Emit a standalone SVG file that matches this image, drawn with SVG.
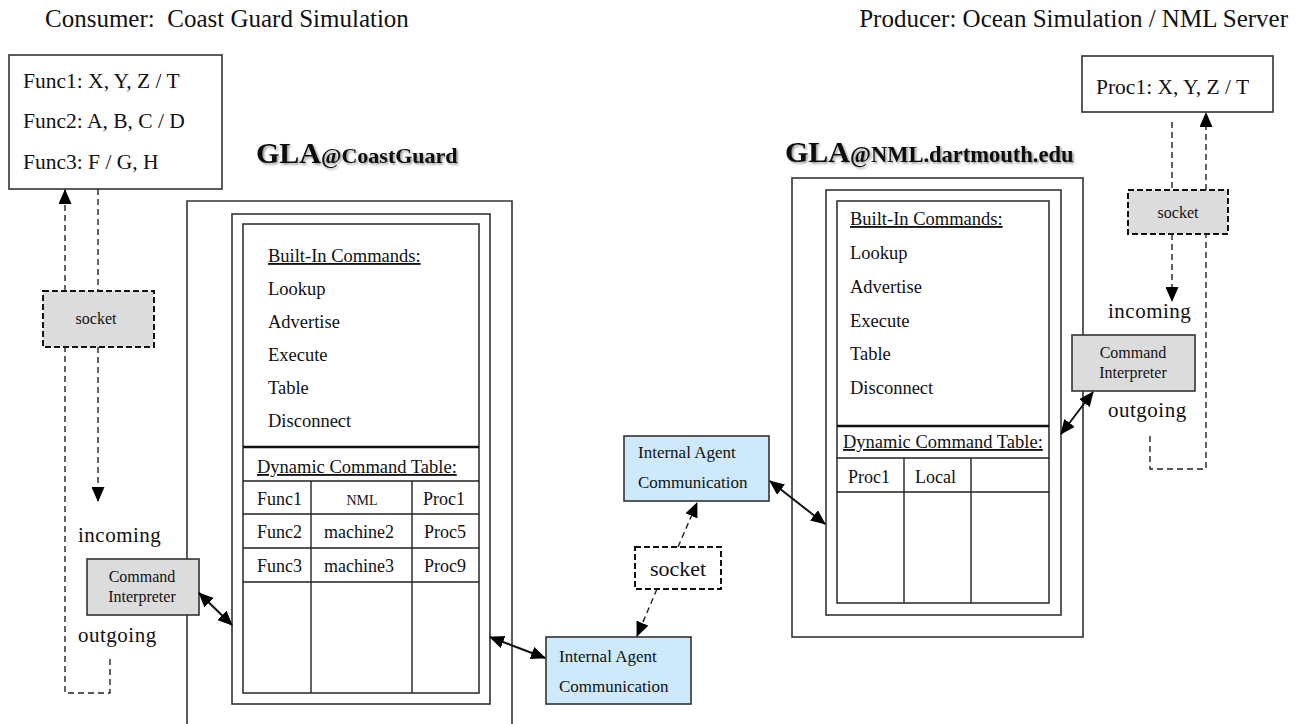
<svg xmlns="http://www.w3.org/2000/svg" width="1296" height="724" viewBox="0 0 1296 724">
  <style>
    text { font-family: "Liberation Serif", "Times New Roman", serif; fill: #111; }
    .title { font-size: 25px; }
    .big { font-size: 21.5px; }
    .cmd { font-size: 18.5px; }
    .cell { font-size: 18px; }
    .small { font-size: 14px; }
    .io { font-size: 21px; letter-spacing: 0.5px; }
    .ci { font-size: 16px; }
    .iac { font-size: 17px; }
    .gla { font-weight: bold; }
    .box { fill: #fff; stroke: #333; stroke-width: 1.6; }
    .frame { fill: none; stroke: #333; stroke-width: 1.6; }
    .line { stroke: #222; stroke-width: 1.4; fill: none; }
    .thick { stroke: #111; stroke-width: 2.6; fill: none; }
    .gray { fill: #dcdcdc; stroke: #333; stroke-width: 1.6; }
    .blue { fill: #cde9fb; stroke: #333; stroke-width: 1.6; }
    .dashbox { stroke: #111; stroke-width: 2; stroke-dasharray: 6 3; }
    .dash { stroke: #222; stroke-width: 1.4; stroke-dasharray: 6 4; fill: none; }
    .solid { stroke: #111; stroke-width: 2; fill: none; }
  </style>
  <defs>
    <marker id="head" markerWidth="15" markerHeight="13" refX="14" refY="6.5" orient="auto-start-reverse" markerUnits="userSpaceOnUse">
      <path d="M0,0 L15,6.5 L0,13 Z" fill="#000"/>
    </marker>
    <filter id="shade" x="-5%" y="-20%" width="110%" height="140%">
      <feDropShadow dx="1.5" dy="1.5" stdDeviation="1" flood-color="#000" flood-opacity="0.45"/>
    </filter>
  </defs>

  <!-- headings -->
  <text class="title" x="45" y="27" xml:space="preserve">Consumer:  Coast Guard Simulation</text>
  <text class="title" x="1288" y="27" text-anchor="end">Producer: Ocean Simulation / NML Server</text>

  <!-- consumer agent -->
  <g id="gla-coastguard">
    <text class="gla" x="256" y="163" filter="url(#shade)"><tspan font-size="30px">GLA</tspan><tspan font-size="22px">@CoastGuard</tspan></text>
    <path class="frame" d="M187,730 V201 H512 V730"/>
    <rect class="box" x="232" y="214" width="258" height="490"/>
    <rect class="box" x="243" y="224" width="236" height="469"/>
    <text class="cmd" x="268" y="262" text-decoration="underline">Built-In Commands:</text>
    <text class="cmd" x="268" y="295">Lookup</text>
    <text class="cmd" x="268" y="328">Advertise</text>
    <text class="cmd" x="268" y="361">Execute</text>
    <text class="cmd" x="268" y="394">Table</text>
    <text class="cmd" x="268" y="427">Disconnect</text>
    <path class="thick" d="M243,447 H479"/>
    <text class="cmd" x="257" y="473" text-decoration="underline">Dynamic Command Table:</text>
    <path class="line" d="M243,481 H479 M243,514 H479 M243,548 H479 M243,582 H479 M311,481 V693 M412,481 V693"/>
    <text class="cell" x="257" y="505">Func1</text>
    <text class="small" x="362" y="505" text-anchor="middle">NML</text>
    <text class="cell" x="444" y="505" text-anchor="middle">Proc1</text>
    <text class="cell" x="257" y="538">Func2</text>
    <text class="cell" x="359" y="538" text-anchor="middle">machine2</text>
    <text class="cell" x="445" y="538" text-anchor="middle">Proc5</text>
    <text class="cell" x="257" y="572">Func3</text>
    <text class="cell" x="359" y="572" text-anchor="middle">machine3</text>
    <text class="cell" x="445" y="572" text-anchor="middle">Proc9</text>
  </g>

  <!-- producer agent -->
  <g id="gla-nml">
    <text class="gla" x="785" y="162" filter="url(#shade)"><tspan font-size="30px">GLA</tspan><tspan font-size="22.5px">@NML.dartmouth.edu</tspan></text>
    <rect class="box" x="792" y="178" width="291" height="459"/>
    <rect class="box" x="826" y="190" width="235" height="425"/>
    <rect class="box" x="837" y="201" width="212" height="402"/>
    <text class="cmd" x="850" y="225" text-decoration="underline">Built-In Commands:</text>
    <text class="cmd" x="850" y="259">Lookup</text>
    <text class="cmd" x="850" y="293">Advertise</text>
    <text class="cmd" x="850" y="327">Execute</text>
    <text class="cmd" x="850" y="360">Table</text>
    <text class="cmd" x="850" y="394">Disconnect</text>
    <path class="thick" d="M837,426 H1049"/>
    <text class="cmd" x="843" y="448" text-decoration="underline">Dynamic Command Table:</text>
    <path class="line" d="M837,458 H1049 M837,492 H1049 M904,458 V603 M971,458 V603"/>
    <text class="cell" x="848" y="483">Proc1</text>
    <text class="cell" x="915" y="483">Local</text>
  </g>

  <!-- consumer function list -->
  <g id="func-list">
    <rect class="box" x="9" y="55" width="213" height="134"/>
    <text class="big" x="23" y="88">Func1: X, Y, Z / T</text>
    <text class="big" x="23" y="128">Func2: A, B, C / D</text>
    <text class="big" x="23" y="169">Func3: F / G, H</text>
  </g>

  <g id="socket-left">
    <rect class="gray dashbox" x="43" y="291" width="111" height="56"/>
    <text class="ci" x="96" y="324" text-anchor="middle">socket</text>
  </g>

  <g id="io-left">
    <text class="io" x="78" y="542">incoming</text>
    <text class="io" x="78" y="642">outgoing</text>
  </g>

  <g id="interp-left">
    <rect class="gray" x="87" y="559" width="112" height="56"/>
    <text class="ci" x="142" y="582" text-anchor="middle">Command</text>
    <text class="ci" x="142" y="602" text-anchor="middle">Interpreter</text>
  </g>

  <!-- internal agent communication -->
  <g id="iac-lower">
    <rect class="blue" x="546" y="637" width="145" height="67"/>
    <text class="iac" x="559" y="662">Internal Agent</text>
    <text class="iac" x="559" y="692">Communication</text>
  </g>

  <g id="iac-upper">
    <rect class="blue" x="624" y="436" width="145" height="65"/>
    <text class="iac" x="638" y="458">Internal Agent</text>
    <text class="iac" x="638" y="488">Communication</text>
  </g>

  <g id="socket-mid">
    <rect class="box dashbox" x="635" y="547" width="86" height="42"/>
    <text x="678" y="576" font-size="22px" text-anchor="middle">socket</text>
  </g>

  <g id="proc-list">
    <rect class="box" x="1082" y="56" width="191" height="56"/>
    <text class="big" x="1096" y="94">Proc1: X, Y, Z / T</text>
  </g>

  <g id="socket-right">
    <rect class="gray dashbox" x="1128" y="190" width="100" height="44"/>
    <text class="ci" x="1178" y="218" text-anchor="middle">socket</text>
  </g>

  <g id="io-right">
    <text class="io" x="1108" y="318">incoming</text>
    <text class="io" x="1108" y="417">outgoing</text>
  </g>

  <g id="interp-right">
    <rect class="gray" x="1072" y="335" width="123" height="56"/>
    <text class="ci" x="1133" y="358" text-anchor="middle">Command</text>
    <text class="ci" x="1133" y="378" text-anchor="middle">Interpreter</text>
  </g>

  <!-- connectors, drawn last so they cross the frames -->
  <g id="connectors">
    <!-- consumer side socket loop -->
    <path class="dash" d="M110,659 V693 H65 V347"/>
    <path class="dash" d="M65,291 V190" marker-end="url(#head)"/>
    <path class="dash" d="M98,189 V291"/>
    <path class="dash" d="M98,347 V501" marker-end="url(#head)"/>
    <!-- producer side socket loop -->
    <path class="dash" d="M1172,122 V190"/>
    <path class="dash" d="M1172,234 V301" marker-end="url(#head)"/>
    <path class="dash" d="M1150,436 V469 H1206 V234"/>
    <path class="dash" d="M1206,190 V113" marker-end="url(#head)"/>
    <!-- agent to agent socket -->
    <path class="dash" d="M678,547 L697,503" marker-end="url(#head)"/>
    <path class="dash" d="M657,589 L637,636" marker-end="url(#head)"/>
    <!-- two-way links -->
    <path class="solid" d="M199,593 L232,625" marker-start="url(#head)" marker-end="url(#head)"/>
    <path class="solid" d="M490,637 L545,658" marker-start="url(#head)" marker-end="url(#head)"/>
    <path class="solid" d="M770,481 L825,524" marker-start="url(#head)" marker-end="url(#head)"/>
    <path class="solid" d="M1093,392 L1061,434" marker-start="url(#head)" marker-end="url(#head)"/>
  </g>
</svg>
